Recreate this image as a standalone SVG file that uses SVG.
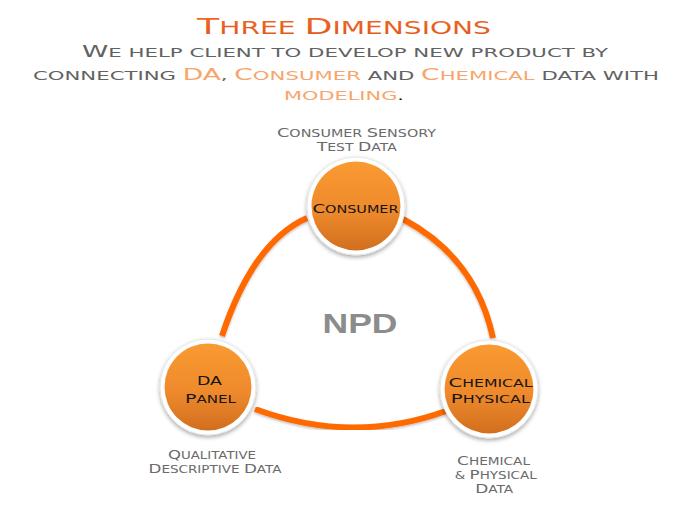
<svg xmlns="http://www.w3.org/2000/svg" width="700" height="525" viewBox="0 0 700 525">
<defs>
  <linearGradient id="orb" x1="0" y1="0" x2="0" y2="1">
    <stop offset="0" stop-color="#fa9a32"/>
    <stop offset="0.55" stop-color="#ee8a2b"/>
    <stop offset="1" stop-color="#d26f1f"/>
  </linearGradient>
  <linearGradient id="ttl" x1="0" y1="0" x2="0" y2="1">
    <stop offset="0" stop-color="#f46a24"/>
    <stop offset="1" stop-color="#dc541c"/>
  </linearGradient>
  <filter id="sh" x="-30%" y="-30%" width="160%" height="160%">
    <feDropShadow dx="0" dy="2" stdDeviation="2" flood-color="#000" flood-opacity="0.35"/>
  </filter>
  <filter id="lsh" x="-10%" y="-10%" width="120%" height="120%">
    <feDropShadow dx="0" dy="1.5" stdDeviation="1" flood-color="#000" flood-opacity="0.25"/>
  </filter>
</defs>
<style>
  text { font-family: "DejaVu Sans", "Liberation Sans", sans-serif; text-anchor: middle; }
  .title { font-size: 17px; fill: url(#ttl); }
  .title .C { font-size: 22px; }
  .sub { font-size: 12px; fill: #626262; }
  .sub .C { font-size: 15px; }
  .hl { fill: #f7a56c; }
  .lab { font-size: 10.5px; fill: #6a6a6a; }
  .lab .C { font-size: 13px; }
  .nt { font-size: 10px; fill: #151515; }
  .nt .C { font-size: 12.5px; }
  .ring { fill: #ffffff; stroke: #e2e2e2; stroke-width: 0.8; filter: url(#sh); }
  .orb { fill: url(#orb); }
  .arc { fill: none; stroke: #ff6a00; stroke-width: 6; stroke-linecap: butt; filter: url(#lsh); }
  .npd { font-family: "Liberation Sans", Arial, sans-serif; font-weight: bold; font-size: 28px; fill: #8c8c8c; }
</style>

<g id="header">
  <text class="title" x="344" y="34" textLength="294" lengthAdjust="spacingAndGlyphs"><tspan class="C">T</tspan>HREE <tspan class="C">D</tspan>IMENSIONS</text>
  <text class="sub" x="345" y="57" textLength="526" lengthAdjust="spacingAndGlyphs"><tspan class="C">W</tspan>E HELP CLIENT TO DEVELOP NEW PRODUCT BY</text>
  <text class="sub" x="346" y="80" textLength="626" lengthAdjust="spacingAndGlyphs">CONNECTING <tspan class="C hl">DA</tspan>, <tspan class="C hl">C</tspan><tspan class="hl">ONSUMER</tspan> AND <tspan class="C hl">C</tspan><tspan class="hl">HEMICAL</tspan> DATA WITH</text>
  <text class="sub" x="344" y="100" textLength="120" lengthAdjust="spacingAndGlyphs"><tspan class="hl">MODELING</tspan><tspan fill="#111">.</tspan></text>
</g>

<g id="connectors">
  <path class="arc" d="M307,218 Q253,242 222,336"/>
  <path class="arc" d="M403,219 Q476,258 493,338"/>
  <path class="arc" d="M255,409 Q352,445 446,411"/>
</g>

<text class="npd" x="360" y="333" textLength="75" lengthAdjust="spacingAndGlyphs">NPD</text>

<g id="node-consumer">
  <circle class="ring" cx="356" cy="206" r="49"/>
  <circle class="orb" cx="356" cy="206" r="44.5"/>
  <text class="nt" x="355.5" y="213" textLength="86" lengthAdjust="spacingAndGlyphs"><tspan class="C">C</tspan>ONSUMER</text>
  <text class="lab" x="356.5" y="137" textLength="159" lengthAdjust="spacingAndGlyphs"><tspan class="C">C</tspan>ONSUMER <tspan class="C">S</tspan>ENSORY</text>
  <text class="lab" x="356.7" y="151" textLength="80" lengthAdjust="spacingAndGlyphs"><tspan class="C">T</tspan>EST <tspan class="C">D</tspan>ATA</text>
</g>

<g id="node-da-panel">
  <circle class="ring" cx="208" cy="387" r="48"/>
  <circle class="orb" cx="208" cy="387" r="43.5"/>
  <text class="nt" x="209.5" y="385" textLength="25" lengthAdjust="spacingAndGlyphs"><tspan class="C">DA</tspan></text>
  <text class="nt" x="210.5" y="403" textLength="51" lengthAdjust="spacingAndGlyphs"><tspan class="C">P</tspan>ANEL</text>
  <text class="lab" x="212" y="459" textLength="88" lengthAdjust="spacingAndGlyphs"><tspan class="C">Q</tspan>UALITATIVE</text>
  <text class="lab" x="215" y="473" textLength="133" lengthAdjust="spacingAndGlyphs"><tspan class="C">D</tspan>ESCRIPTIVE <tspan class="C">D</tspan>ATA</text>
</g>

<g id="node-chemical-physical">
  <circle class="ring" cx="489" cy="389" r="49"/>
  <circle class="orb" cx="489" cy="389" r="44.5"/>
  <text class="nt" x="490.5" y="387" textLength="84" lengthAdjust="spacingAndGlyphs"><tspan class="C">C</tspan>HEMICAL</text>
  <text class="nt" x="490.3" y="403" textLength="79" lengthAdjust="spacingAndGlyphs"><tspan class="C">P</tspan>HYSICAL</text>
  <text class="lab" x="493.6" y="465" textLength="73" lengthAdjust="spacingAndGlyphs"><tspan class="C">C</tspan>HEMICAL</text>
  <text class="lab" x="495.8" y="479" textLength="82" lengthAdjust="spacingAndGlyphs">&amp; <tspan class="C">P</tspan>HYSICAL</text>
  <text class="lab" x="494.2" y="493" textLength="38" lengthAdjust="spacingAndGlyphs"><tspan class="C">D</tspan>ATA</text>
</g>
</svg>
